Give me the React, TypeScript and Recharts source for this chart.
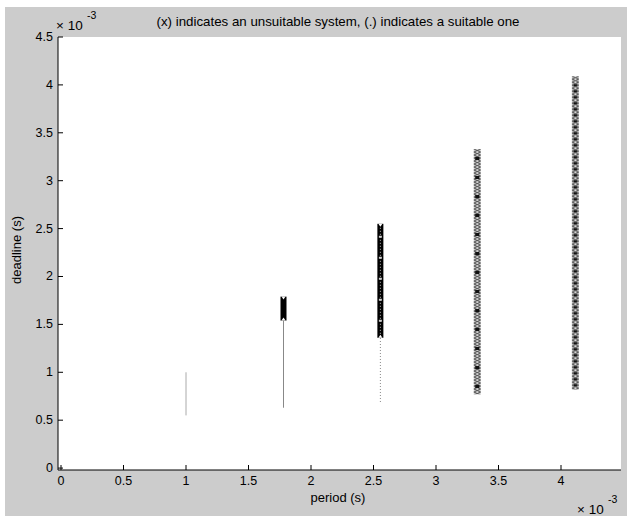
import { ComposedChart, XAxis, YAxis, ReferenceLine, CartesianGrid } from "recharts";

const FONT = "'Liberation Sans', Arial, sans-serif";

// one column per tested period, all values in units of 1e-3 s
const periods = [1.0, 1.78, 2.555, 3.33, 4.115];
const suitableFrom = [0.55, 0.63, 0.69, null, null];
const suitableTo = [1.0, 1.54, 1.36, null, null];
const suitableKind = ["light", "solid", "dotted", null, null];
const unsuitableFrom = [null, 1.54, 1.36, 0.77, 0.82];
const unsuitableTo = [null, 1.79, 2.55, 3.33, 4.09];
const unsuitableKind = [null, "block", "dense", "sparse", "tight"];

const xTicks = [0, 0.5, 1, 1.5, 2, 2.5, 3, 3.5, 4];
const yTicks = [0, 0.5, 1, 1.5, 2, 2.5, 3, 3.5, 4, 4.5];

function XTick(p: any) {
  return (
    <g>
      <line x1={p.x} y1={p.y} x2={p.x} y2={p.y - 5} stroke="#000" />
      <text x={p.x} y={p.y + 15} textAnchor="middle" fontSize={12.5} fontFamily={FONT} fill="#000">
        {String(p.payload.value)}
      </text>
    </g>
  );
}

function YTick(p: any) {
  return (
    <g>
      <line x1={p.x} y1={p.y} x2={p.x + 5} y2={p.y} stroke="#000" />
      <text x={p.x - 5} y={p.y + 4} textAnchor="end" fontSize={12.5} fontFamily={FONT} fill="#000">
        {String(p.payload.value)}
      </text>
    </g>
  );
}

function suitableShape(kind: string) {
  return (p: any) => {
    const stroke = kind === "light" ? "#aaa" : "#888";
    return (
      <line
        x1={p.x1}
        y1={p.y1}
        x2={p.x2}
        y2={p.y2}
        stroke={stroke}
        strokeWidth={1}
        strokeDasharray={kind === "dotted" ? "1 2" : undefined}
      />
    );
  };
}

function unsuitableShape(kind: string, id: string) {
  return (p: any) => {
    const x = p.x1;
    const top = Math.min(p.y1, p.y2);
    const bot = Math.max(p.y1, p.y2);
    if (kind === "block" || kind === "dense") {
      return (
        <g>
          <rect x={x - 3} y={top} width={6} height={bot - top} fill="#000" />
          <polygon points={`${x - 2},${top} ${x + 2},${top} ${x},${top + 3}`} fill="#fff" />
          <polygon points={`${x - 2},${bot} ${x + 2},${bot} ${x},${bot - 3}`} fill="#fff" />
          {kind === "dense" && (
            <>
              <line x1={x} y1={top + 4} x2={x} y2={bot - 4} stroke="#bbb" strokeDasharray="1 2" />
              <line x1={x} y1={top + 12} x2={x} y2={bot - 4} stroke="#ccc" strokeWidth={3} strokeDasharray="2 19" />
            </>
          )}
        </g>
      );
    }
    return (
      <g>
        <defs>
          <pattern id={id} patternUnits="userSpaceOnUse" x={x - 3.5} y={top} width={7} height={3}>
            <rect width={7} height={3} fill="#ddd" />
            <line x1={0} y1={0} x2={7} y2={3} stroke="#444" strokeWidth={1} />
            <line x1={0} y1={3} x2={7} y2={0} stroke="#444" strokeWidth={1} />
          </pattern>
        </defs>
        <rect x={x - 3.5} y={top} width={7} height={bot - top} fill={`url(#${id})`} />
        <line
          x1={x}
          y1={top + 8}
          x2={x}
          y2={bot - 2}
          stroke="#111"
          strokeWidth={kind === "tight" ? 3 : 4}
          strokeDasharray={kind === "tight" ? "2 4" : "3 16"}
        />
      </g>
    );
  };
}

export default function App() {
  return (
    <div style={{ position: "absolute", left: 0, top: 0, width: 629, height: 520, background: "#fff" }}>
      <div style={{ position: "absolute", left: 5, top: 7, width: 622, height: 509, background: "#cccccc" }} />
      <div style={{ position: "absolute", left: 0, top: 0 }}>
        <ComposedChart width={629} height={520} margin={{ top: 37, right: 8, bottom: 0, left: 0 }}>
          <CartesianGrid fill="#fff" stroke="none" horizontal={false} vertical={false} />
          <XAxis
            type="number"
            dataKey="x"
            domain={[-0.024, 4.48]}
            ticks={xTicks}
            allowDataOverflow
            height={50}
            tickSize={0}
            tickMargin={0}
            axisLine={{ stroke: "#000" }}
            tick={XTick}
            interval={0}
          />
          <YAxis
            type="number"
            dataKey="y"
            domain={[-0.02, 4.5]}
            ticks={yTicks}
            allowDataOverflow
            width={58}
            tickSize={0}
            tickMargin={0}
            axisLine={{ stroke: "#000" }}
            tick={YTick}
            interval={0}
          />
          {periods.map((t, i) =>
            suitableFrom[i] == null ? null : (
              <ReferenceLine
                key={`ok${i}`}
                segment={[
                  { x: t, y: suitableFrom[i] as number },
                  { x: t, y: suitableTo[i] as number },
                ]}
                shape={suitableShape(suitableKind[i] as string)}
              />
            )
          )}
          {periods.map((t, i) =>
            unsuitableFrom[i] == null ? null : (
              <ReferenceLine
                key={`bad${i}`}
                segment={[
                  { x: t, y: unsuitableFrom[i] as number },
                  { x: t, y: unsuitableTo[i] as number },
                ]}
                shape={unsuitableShape(unsuitableKind[i] as string, `hatch${i}`)}
              />
            )
          )}
        </ComposedChart>
      </div>
      <svg width={629} height={520} style={{ position: "absolute", left: 0, top: 0, pointerEvents: "none" }}>
        <g fontFamily={FONT} fill="#000">
          <text x={338} y={26} textAnchor="middle" fontSize={13.3}>
            (x) indicates an unsuitable system, (.) indicates a suitable one
          </text>
          <text x={56} y={30} fontSize={13.5}>× 10</text>
          <text x={87} y={19} fontSize={10.5}>-3</text>
          <text x={338} y={502} textAnchor="middle" fontSize={13}>period (s)</text>
          <text x={577} y={514} fontSize={13.5}>× 10</text>
          <text x={608} y={503} fontSize={10.5}>-3</text>
          <text x={21} y={250} textAnchor="middle" fontSize={13} transform="rotate(-90 21 250)">
            deadline (s)
          </text>
        </g>
      </svg>
    </div>
  );
}
